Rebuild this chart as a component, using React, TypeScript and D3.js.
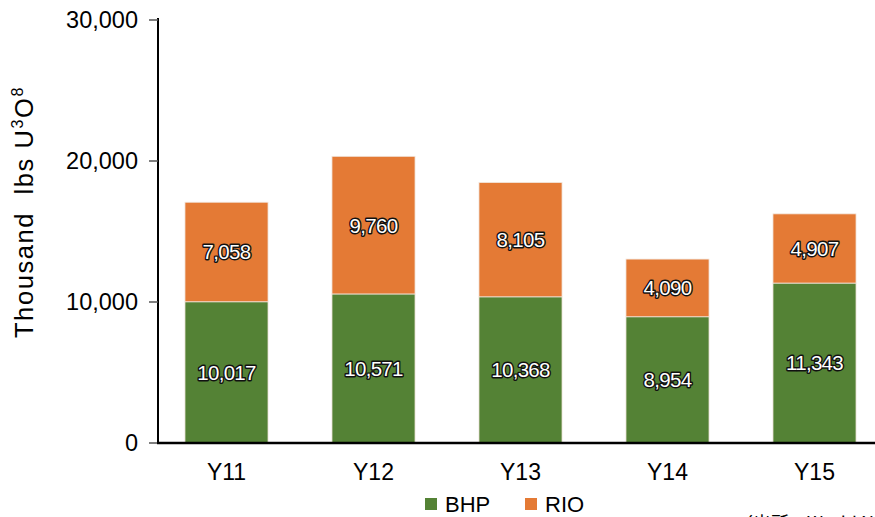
import React from "react";
import * as d3 from "d3";

const categories = ["Y11", "Y12", "Y13", "Y14", "Y15"];
const bhpValues = [10017, 10571, 10368, 8954, 11343];
const rioValues = [7058, 9760, 8105, 4090, 4907];
const seriesNames = ["BHP", "RIO"];
const yTicks = [0, 10000, 20000, 30000];
const yLabelMain = "Thousand  lbs U";
const sourceNote = "（出所：World Nuclear Association）";

const W = 875;
const H = 517;
const FONT = "'Liberation Sans', Arial, Helvetica, sans-serif";
const COLORS = ["#548235", "#E47A35"];

export default function App() {
  const x = d3
    .scaleBand<string>()
    .domain(categories)
    .range([153, 888])
    .paddingInner(0.435)
    .paddingOuter(0.2175);
  const y = d3.scaleLinear().domain([0, 30000]).range([443, 20]);
  const fmt = d3.format(",");

  const rows = categories.map((c, i) => ({ cat: c, BHP: bhpValues[i], RIO: rioValues[i] }));
  const stacked = d3.stack<any>().keys(seriesNames)(rows);

  return (
    <svg
      width={W}
      height={H}
      style={{ position: "absolute", left: 0, top: 0, background: "#fff" }}
      fontFamily={FONT}
    >
      {stacked.map((s, si) => (
        <g key={s.key}>
          {s.map((d, i) => (
            <rect
              key={i}
              x={x(categories[i])!}
              y={y(d[1])}
              width={x.bandwidth()}
              height={y(d[0]) - y(d[1])}
              fill={COLORS[si]}
              stroke="#f2e6dc"
              strokeWidth={0.8}
            />
          ))}
        </g>
      ))}
      {stacked.map((s) =>
        s.map((d, i) => (
          <text
            key={s.key + i}
            x={x(categories[i])! + x.bandwidth() / 2}
            y={(y(d[0]) + y(d[1])) / 2}
            dy="0.36em"
            textAnchor="middle"
            fontSize={20.5}
            fill="#fff"
            stroke="#111"
            strokeWidth={2.8}
            strokeLinejoin="round"
            style={{ paintOrder: "stroke" }}
            letterSpacing={-0.7}
          >
            {fmt(d[1] - d[0])}
          </text>
        ))
      )}
      {/* y axis */}
      <line x1={158} x2={158} y1={18} y2={444} stroke="#000" strokeWidth={2} />
      {yTicks.map((t) => (
        <g key={t}>
          <line x1={149} x2={158} y1={y(t)} y2={y(t)} stroke="#555" strokeWidth={1.5} />
          <text x={138} y={y(t)} dy="0.36em" textAnchor="end" fontSize={23.5} fill="#000">
            {fmt(t)}
          </text>
        </g>
      ))}
      {/* x axis */}
      <line x1={157} x2={875} y1={443} y2={443} stroke="#000" strokeWidth={2.5} />
      {categories.map((c) => (
        <text
          key={c}
          x={x(c)! + x.bandwidth() / 2}
          y={480}
          textAnchor="middle"
          fontSize={23}
          fill="#000"
        >
          {c}
        </text>
      ))}
      {/* y label */}
      <text
        transform="translate(33,212) rotate(-90)"
        textAnchor="middle"
        fontSize={25.5}
        fill="#000"
        letterSpacing={1.6}
        style={{ whiteSpace: "pre" }}
        xmlSpace="preserve"
      >
        {yLabelMain}
        <tspan dy={-10} fontSize={16}>3</tspan>
        <tspan dy={10}>O</tspan>
        <tspan dy={-10} fontSize={16}>8</tspan>
      </text>
      {/* legend */}
      {seriesNames.map((n, i) => (
        <g key={n} transform={`translate(${425 + i * 100},0)`}>
          <rect x={0} y={498} width={12} height={12} fill={COLORS[i]} />
          <text x={20} y={512} fontSize={22} fill="#000">
            {n}
          </text>
        </g>
      ))}
      <text x={735} y={530} fontSize={18} fill="#000" fontFamily="'Noto Sans CJK JP', sans-serif">
        {sourceNote}
      </text>
    </svg>
  );
}
